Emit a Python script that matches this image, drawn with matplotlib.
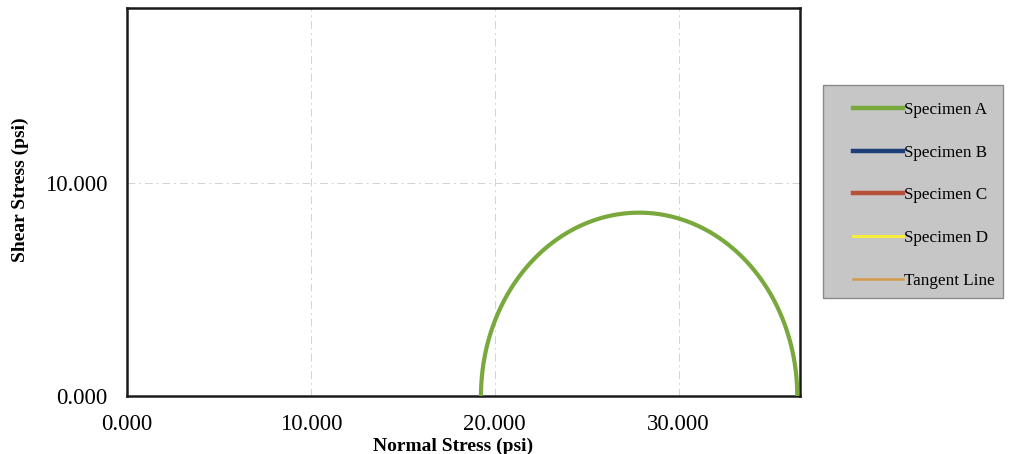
import numpy as np
import matplotlib.pyplot as plt
from matplotlib.lines import Line2D
from matplotlib.patches import Rectangle

plt.rcParams['font.family'] = ['Liberation Serif', 'DejaVu Serif']

# principal stresses for each specimen (ksi-scaled psi values)
specimens = ['Specimen A', 'Specimen B', 'Specimen C', 'Specimen D']
sigma3 = [19.25, None, None, None]
sigma1 = [36.45, None, None, None]
colors = ['#79a83c', '#1f3f78', '#b8513a', '#f6ee3c']
tangent_color = '#d59a48'

x_ticks = [0, 10, 20, 30]
x_tick_labels = ['0.000', '10.000', '20.000', '30.000']
y_ticks = [0, 10]
y_tick_labels = ['0.000', '10.000']

W, H = 1009, 454
fig = plt.figure(figsize=(W / 100, H / 100), dpi=100)
ax = fig.add_axes([127 / W, 58 / H, 673 / W, 388 / H])

handles = []
for name, s3, s1, c in zip(specimens, sigma3, sigma1, colors):
    if s3 is not None:
        center = (s1 + s3) / 2
        radius = (s1 - s3) / 2
        theta = np.linspace(0, np.pi, 200)
        ax.plot(center + radius * np.cos(theta), radius * np.sin(theta),
                color=c, lw=3, solid_capstyle='butt', zorder=3)
    lw = 2.2 if name == 'Specimen D' else 3.2
    handles.append(Line2D([], [], color=c, lw=lw, label=name))
handles.append(Line2D([], [], color=tangent_color, lw=1.8, label='Tangent Line'))

ax.set_xlim(0, 36.6)
ax.set_ylim(0, 18.2)
ax.set_xticks(x_ticks)
ax.set_xticklabels(x_tick_labels)
ax.set_yticks(y_ticks)
ax.set_yticklabels(y_tick_labels)
ax.tick_params(length=0, labelsize=16.5)
ax.tick_params(axis='x', pad=13)
ax.tick_params(axis='y', pad=14)
ax.grid(True, color='#d2d2d2', lw=0.7, ls=(0, (8, 4, 2, 4)))
for sp in ax.spines.values():
    sp.set_linewidth(1.8)
    sp.set_color('#1a1a1a')

ax.set_xlabel('Normal Stress (psi)', fontsize=14, fontweight='bold', va='center')
ax.xaxis.set_label_coords((453 - 127) / 673, -(446 - 396) / 388)
ax.set_ylabel('Shear Stress (psi)', fontsize=14, fontweight='bold', va='center')
ax.yaxis.set_label_coords((20 - 127) / 673, (396 - 190) / 388)

# grey legend panel
fig.add_artist(Rectangle((823 / W, 1 - 298 / H), 180 / W, 213 / H,
                         transform=fig.transFigure, facecolor='#c6c6c6',
                         edgecolor='#8a8a8a', lw=1.0))
fig.legend(handles=handles, loc='upper left',
           bbox_to_anchor=(853 / W, 1 - 102 / H),
           fontsize=12.3, frameon=False,
           labelspacing=1.56, handlelength=2.93, handletextpad=0.05,
           borderpad=0, borderaxespad=0)

fig.savefig('out.png', dpi=100)
